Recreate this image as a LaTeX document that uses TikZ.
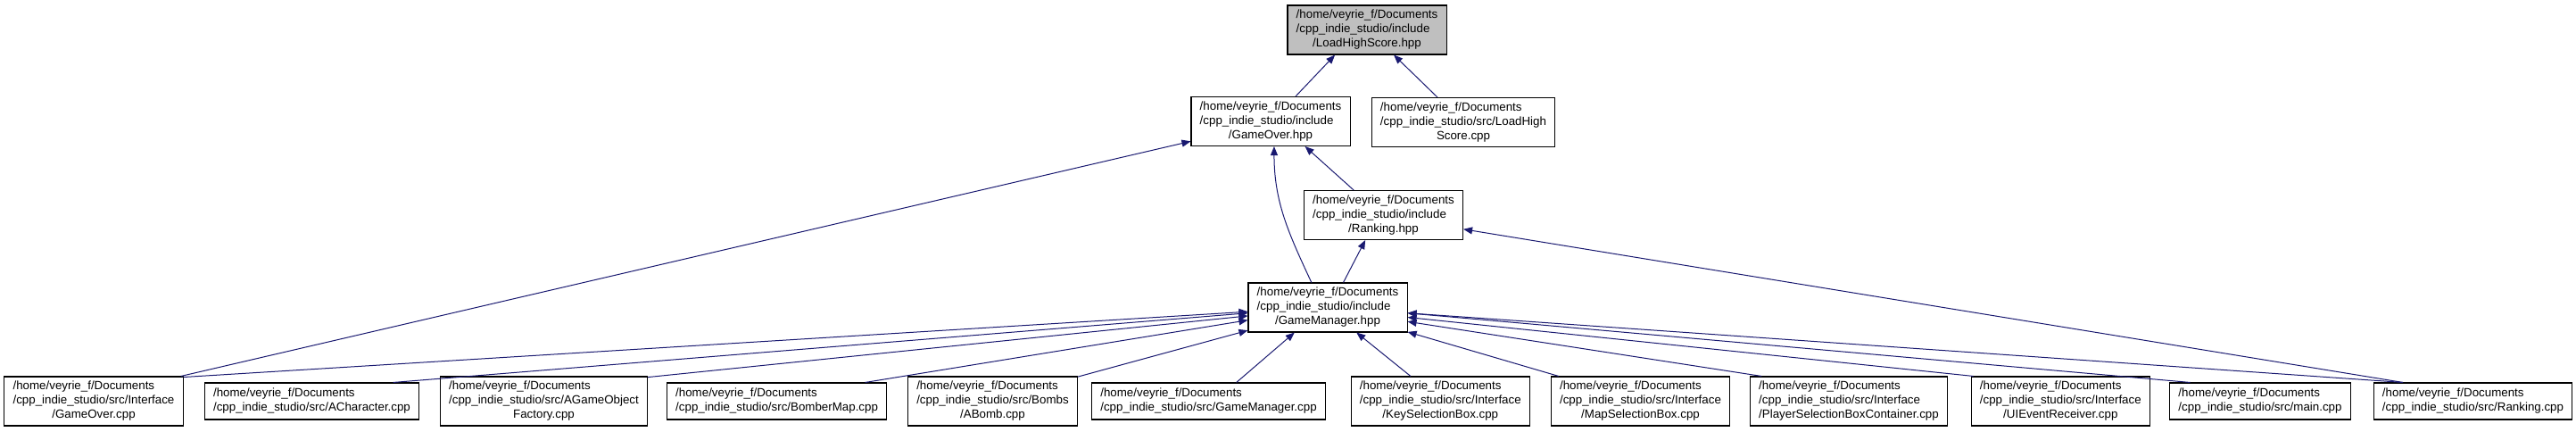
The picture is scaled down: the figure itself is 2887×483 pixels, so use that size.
\documentclass[tikz,border=0pt]{standalone}
\usepackage{fontspec}
\setmainfont{Liberation Sans}
\usetikzlibrary{arrows.meta}
\definecolor{edgeblue}{RGB}{25,25,112}
\definecolor{focusgray}{RGB}{191,191,191}
\newcommand{\threeline}[3]{\begin{tabular}{@{}l@{}}#1\\#2\\\multicolumn{1}{@{}c@{}}{#3}\end{tabular}}
\newcommand{\twoline}[2]{\begin{tabular}{@{}l@{}}#1\\#2\end{tabular}}
\begin{document}
\begin{tikzpicture}[x=.75pt,y=-.75pt,font=\fontsize{10}{12}\selectfont,
  file/.style={draw=black,line width=.8pt,fill=white,inner xsep=7.3pt,inner ysep=0pt},
  tall/.style={file,minimum height=41.25pt},
  short/.style={file,minimum height=30.75pt},
  dep/.style={draw=edgeblue,line width=.75pt,-{Triangle[length=7.5pt,width=6pt]}}]
\useasboundingbox (0,0) rectangle (2887,483);
\node[tall,fill=focusgray] (lhshpp) at (1532,33.5) {\threeline{/home/veyrie\_f/Documents}{/cpp\_indie\_studio/include}{/LoadHighScore.hpp}};
\node[tall] (gohpp) at (1424,136) {\threeline{/home/veyrie\_f/Documents}{/cpp\_indie\_studio/include}{/GameOver.hpp}};
\node[tall] (lhscpp) at (1640,137) {\threeline{/home/veyrie\_f/Documents}{/cpp\_indie\_studio/src/LoadHigh}{Score.cpp}};
\node[tall] (rankhpp) at (1550.5,241) {\threeline{/home/veyrie\_f/Documents}{/cpp\_indie\_studio/include}{/Ranking.hpp}};
\node[tall] (gmhpp) at (1488,344.5) {\threeline{/home/veyrie\_f/Documents}{/cpp\_indie\_studio/include}{/GameManager.hpp}};
\node[tall] (gocpp) at (105,449.5) {\threeline{/home/veyrie\_f/Documents}{/cpp\_indie\_studio/src/Interface}{/GameOver.cpp}};
\node[short] (acharcpp) at (349.5,449.5) {\twoline{/home/veyrie\_f/Documents}{/cpp\_indie\_studio/src/ACharacter.cpp}};
\node[tall] (agofcpp) at (609.5,449.5) {\threeline{/home/veyrie\_f/Documents}{/cpp\_indie\_studio/src/AGameObject}{Factory.cpp}};
\node[short] (bmapcpp) at (870.6,449.5) {\twoline{/home/veyrie\_f/Documents}{/cpp\_indie\_studio/src/BomberMap.cpp}};
\node[tall] (abombcpp) at (1112.5,449.5) {\threeline{/home/veyrie\_f/Documents}{/cpp\_indie\_studio/src/Bombs}{/ABomb.cpp}};
\node[short] (gmcpp) at (1354.5,449.5) {\twoline{/home/veyrie\_f/Documents}{/cpp\_indie\_studio/src/GameManager.cpp}};
\node[tall] (ksbcpp) at (1614.3,449.5) {\threeline{/home/veyrie\_f/Documents}{/cpp\_indie\_studio/src/Interface}{/KeySelectionBox.cpp}};
\node[tall] (msbcpp) at (1838.5,449.5) {\threeline{/home/veyrie\_f/Documents}{/cpp\_indie\_studio/src/Interface}{/MapSelectionBox.cpp}};
\node[tall] (psbccpp) at (2072,449.5) {\threeline{/home/veyrie\_f/Documents}{/cpp\_indie\_studio/src/Interface}{/PlayerSelectionBoxContainer.cpp}};
\node[tall] (uiercpp) at (2309.3,449.5) {\threeline{/home/veyrie\_f/Documents}{/cpp\_indie\_studio/src/Interface}{/UIEventReceiver.cpp}};
\node[short] (maincpp) at (2533,449.5) {\twoline{/home/veyrie\_f/Documents}{/cpp\_indie\_studio/src/main.cpp}};
\node[short] (rankcpp) at (2771.5,449.5) {\twoline{/home/veyrie\_f/Documents}{/cpp\_indie\_studio/src/Ranking.cpp}};
\draw[dep] (gohpp.45) -- (lhshpp.218);
\draw[dep] (lhscpp.136) -- (lhshpp.317);
\draw[dep] (rankhpp.140) -- (gohpp.324);
\draw[dep] (gmhpp.123) to[out=115,in=-90] (gohpp.278);
\draw[dep] (gmhpp.58) -- (rankhpp.234);
\draw[dep] (rankcpp.165.7) -- (rankhpp.350);
\draw[dep] (gocpp.16) -- (gohpp.194.8);
\draw[dep] (gocpp.15) -- (gmhpp.183.5);
\draw[dep] (acharcpp.13.5) -- (gmhpp.184.5);
\draw[dep] (agofcpp.13) -- (gmhpp.186.7);
\draw[dep] (bmapcpp.12.5) -- (gmhpp.189.8);
\draw[dep] (abombcpp.16) -- (gmhpp.196);
\draw[dep] (gmcpp.34.5) -- (gmhpp.217.4);
\draw[dep] (ksbcpp.140.4) -- (gmhpp.319.3);
\draw[dep] (msbcpp.163.4) -- (gmhpp.343);
\draw[dep] (psbccpp.164.5) -- (gmhpp.350.2);
\draw[dep] (uiercpp.164) -- (gmhpp.353);
\draw[dep] (maincpp.165) -- (gmhpp.356);
\draw[dep] (rankcpp.165.7) -- (gmhpp.356.5);
\end{tikzpicture}
\end{document}
